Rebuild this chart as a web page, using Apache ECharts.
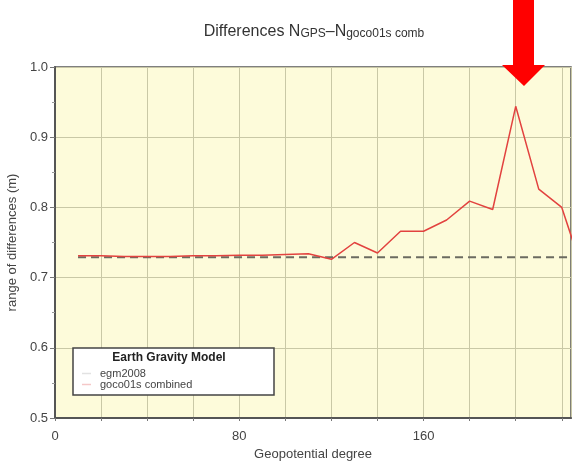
<!DOCTYPE html>
<html>
<head>
<meta charset="utf-8">
<script src="https://cdn.jsdelivr.net/npm/echarts@6/dist/echarts.min.js"></script>
<style>html,body{margin:0;padding:0;background:#fff}#c{width:572px;height:461px}</style>
</head>
<body>
<div id="c"></div>
<script>
var degrees = [10, 20, 30, 40, 50, 60, 70, 80, 90, 100, 110, 120, 130, 140, 150, 160, 170, 180, 190, 200, 210, 220, 230];
var goco01sCombined = [0.731, 0.731, 0.730, 0.730, 0.730, 0.731, 0.731, 0.732, 0.732, 0.733, 0.734, 0.726, 0.750, 0.735, 0.766, 0.766, 0.782, 0.809, 0.797, 0.944, 0.826, 0.800, 0.700];
var egmDegrees = [10, 230];
var egm2008 = [0.729, 0.729];
var seriesNames = ['egm2008', 'goco01s combined'];
var yTicks = [0.5, 0.6, 0.7, 0.8, 0.9, 1.0];
var xLabelTicks = [0, 80, 160];

function pairs(xs, ys) { return xs.map(function (x, i) { return [x, ys[i]]; }); }

var chart = echarts.init(document.getElementById('c'), null, { renderer: 'canvas' });
var font = 'Liberation Sans, Arial, Helvetica, sans-serif';
chart.setOption({
  animation: false,
  backgroundColor: '#ffffff',
  textStyle: { fontFamily: font },
  title: {
    text: '{a|Differences N}{s|GPS}{a|\u2013N}{s|goco01s comb}',
    left: 309, top: 13, textAlign: 'center',
    textStyle: {
      fontWeight: 'normal',
      rich: {
        a: { fontSize: 16, color: '#333', fontFamily: font, fontWeight: 'normal', verticalAlign: 'bottom', lineHeight: 22 },
        s: { fontSize: 12, color: '#333', fontFamily: font, fontWeight: 'normal', verticalAlign: 'bottom', lineHeight: 16 }
      }
    }
  },
  grid: {
    left: 55, top: 67, width: 516, height: 351,
    containLabel: false, outerBoundsMode: 'none',
    show: true, backgroundColor: '#fdfbda', borderColor: '#555', borderWidth: 1.5
  },
  legend: {
    orient: 'vertical', left: 77, top: 363, itemGap: 0, z: 30,
    itemWidth: 9, itemHeight: 1.5,
    textStyle: { fontSize: 11, color: '#444', fontFamily: font, padding: [0, 0, 0, 4], lineHeight: 11 },
    data: [
      { name: seriesNames[0], icon: 'rect', itemStyle: { color: '#e2e2e2' } },
      { name: seriesNames[1], icon: 'rect', itemStyle: { color: '#f5c8c8' } }
    ]
  },
  xAxis: {
    type: 'value', min: 0, max: 224, interval: 20,
    name: 'Geopotential degree', nameLocation: 'middle', nameGap: 28,
    nameTextStyle: { fontSize: 13, color: '#444', fontFamily: font },
    axisLine: { show: true, lineStyle: { color: '#555', width: 2 } },
    axisTick: { show: true, length: 3, lineStyle: { color: '#777' } },
    axisLabel: {
      fontSize: 13, color: '#444', margin: 12, showMaxLabel: false,
      formatter: function (v) { return xLabelTicks.indexOf(v) >= 0 ? String(v) : ''; }
    },
    splitLine: { show: true, lineStyle: { color: '#c9c8a6', width: 1 } }
  },
  yAxis: {
    type: 'value', min: yTicks[0], max: yTicks[yTicks.length - 1], interval: 0.1,
    name: 'range of differences (m)', nameLocation: 'middle', nameGap: 30,
    nameTextStyle: { fontSize: 13, color: '#444', fontFamily: font },
    axisLine: { show: true, lineStyle: { color: '#555', width: 2 } },
    axisTick: { show: true, length: 5, lineStyle: { color: '#777' } },
    minorTick: { show: true, splitNumber: 2, length: 3, lineStyle: { color: '#999' } },
    axisLabel: { fontSize: 13, color: '#444', margin: 7, formatter: function (v) { return v.toFixed(1); } },
    splitLine: { show: true, lineStyle: { color: '#c9c8a6', width: 1 } }
  },
  series: [
    {
      name: seriesNames[0], type: 'line', data: pairs(egmDegrees, egm2008),
      showSymbol: false, symbol: 'none', clip: true, z: 2,
      lineStyle: { color: '#6b6b60', width: 2, type: [8, 5] }
    },
    {
      name: seriesNames[1], type: 'line', data: pairs(degrees, goco01sCombined),
      showSymbol: false, symbol: 'none', clip: true, z: 3,
      lineStyle: { color: '#e2423f', width: 1.5 }
    }
  ],
  graphic: [
    { type: 'rect', shape: { x: 73, y: 348, width: 201, height: 47 },
      style: { fill: '#ffffff', stroke: '#444', lineWidth: 1.5 }, z: 10 },
    { type: 'text', x: 169, y: 352, z: 11,
      style: { text: 'Earth Gravity Model', fontSize: 12, fontWeight: 'bold', fill: '#222', fontFamily: font, align: 'center' } },
    { type: 'polygon', z: 20,
      shape: { points: [[513, 0], [534, 0], [534, 65], [545, 65], [524, 86], [502, 65], [513, 65]] },
      style: { fill: '#ff0000' } }
  ]
});
</script>
</body>
</html>
